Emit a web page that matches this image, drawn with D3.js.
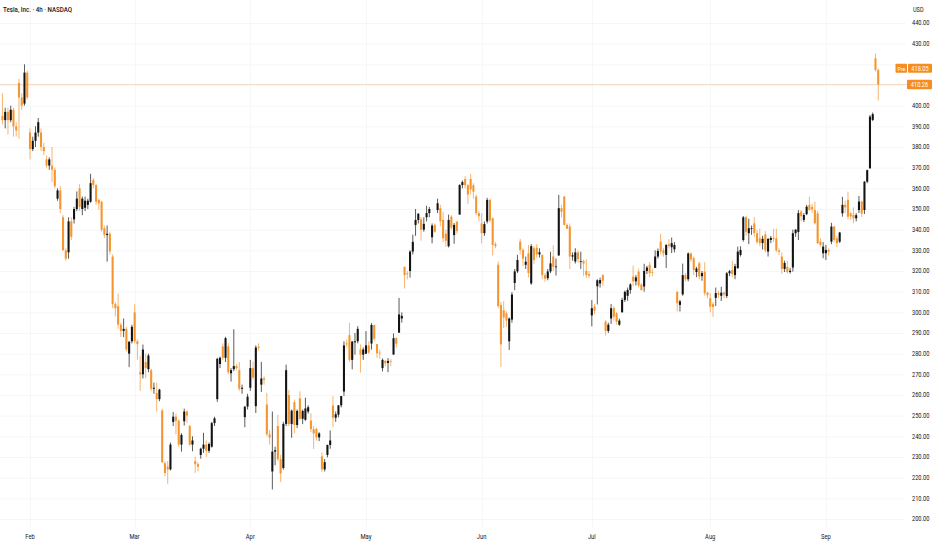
<!DOCTYPE html>
<html><head><meta charset="utf-8">
<script src="https://cdn.jsdelivr.net/npm/d3@7"></script>
<style>html,body{margin:0;padding:0;background:#fff;}svg{display:block;font-family:Roboto,"Noto Sans","DejaVu Sans",sans-serif;}</style>
</head><body><svg id="c" width="932" height="550"></svg>
<script>
// ---- categories: trading days per month (two 4h bars per day, Jul 3 half session) ----
const monthNames = ["Jan","Feb","Mar","Apr","May","Jun","Jul","Aug","Sep"];
const daysJan = [27,28,29,30,31];
const daysFeb = [3,4,5,6,7,10,11,12,13,14,18,19,20,21,24,25,26,27,28];
const daysMar = [3,4,5,6,7,10,11,12,13,14,17,18,19,20,21,24,25,26,27,28,31];
const daysApr = [1,2,3,4,7,8,9,10,11,14,15,16,17,21,22,23,24,25,28,29,30];
const daysMay = [1,2,5,6,7,8,9,12,13,14,15,16,19,20,21,22,23,27,28,29,30];
const daysJun = [2,3,4,5,6,9,10,11,12,13,16,17,18,20,23,24,25,26,27,30];
const daysJul = [1,2,3,7,8,9,10,11,14,15,16,17,18,21,22,23,24,25,28,29,30,31];
const daysAug = [1,4,5,6,7,8,11,12,13,14,15,18,19,20,21,22,25,26,27,28,29];
const daysSep = [2,3,4,5,8,9,10,11,12,15];
const halfSessions = ["Jul-3"];
const sessions = ["09:30","13:30"];

// ---- series values: [open, high, low, close] per 4h bar ----
const ohlcJan = [[395,406,391,393],[393,399,389,397],[397,399,386,393],[393,400,392,398],[398,399,385,390],[390,392,385,388],[411,413,384,404],[404,406,398,400],[401,420,400,416],[416,417,403,404]];
const ohlcFeb = [[387,389,374,379],[379,385,378,383],[383,390,380,387],[387,394,385,392],[387,389,378,380],[380,382,376,378],[374,376,370,371],[371,375,369,374],[371,380,363,369],[369,370,360,361],
[355,360,354,359],[359,361,348,350],[346,347,330,330],[330,331,325,326],[329,346,326,344],[344,346,335,336.5],[345,351,343,350],[350,358.5,349,355],[360,362,349,351],[350,356,347,355],
[350.6,356,349,354],[352,355,350,354],[353.5,367,353,362.5],[364,365,360,361.6],[361.6,362,352,353.5],[354.4,355,349.6,352.8],[353.5,354,339,340],[340.7,342,336,337.5],[337.4,342,324.5,338],[338,339,328,329.5],
[327,328,302,304],[304,305,298,302],[303,309,292,294],[294,295,288,291],[291,297,288,292],[292,293,281,282],[280,286,273.5,285.8],[286,294,285,293]];
const ohlcMar = [[300,303.9,285,286],[286,287,277,284.6],[271,279,262,270],[270,284.4,268,282],[276,280,268.2,273],[272.5,280,271,279.1],[272,272.7,262,263],[263,266,260.6,263.5],[261,266,252,258],[258,263,257,262.6],
[252.5,253.4,227,227.5],[227,228,220.7,222.2],[225.3,228,217,224],[224,237,223.5,236],[247,251.8,245,249.5],[249.5,251,241,247.5],[247.5,248.3,235,236],[236,241.5,232.6,240.7],[247.3,253.4,245.2,252],[252,252.5,246.5,250],
[245,245.5,235.5,236],[236,240,232.8,238],[228,230.1,222.3,226.5],[226.5,227.5,223,225.3],[231,234.5,229.2,234],[234,241.7,232,236],[236,238,230,233],[233,237,232,236.3],[235,247,234.5,246.4],[246.4,249.5,245,248.7],
[258,278,256.7,277.5],[275,278.6,273,278],[283.5,285,277,278],[278,288.2,276,287.5],[283.5,285,270,271],[270.5,273,266.5,272],[272.5,291.8,271.5,274],[274,275,272,273],[272,276,262,263],[263,265,260.6,263.5],
[249.3,254.5,244.4,254.4],[254.4,260.6,253,259.2]];
const ohlcApr = [[263.5,277,262,273],[273,276,267.5,268.5],[254.6,284,251.3,283],[283.4,285,281.5,282.8],[265,276,261.5,268],[268,269,265,267.3],[255.4,261,240,241],[241,243,236,239.4],[223,252,214.3,232.6],[232.6,235,226,233.3],
[245,250.4,228,229],[229,231,217.8,222],[224.7,247,223.9,246],[246,274.7,245,272],[260,262.5,245,246],[246,253,239.3,252.4],[256.5,257.7,241.4,245.5],[245.5,253,244,252.3],[258.4,261.8,248,248.5],[248.5,253,245.9,252.3],
[248,258.7,247.5,253.5],[252,255,251,254.1],[247.6,251.2,242,243.5],[243.5,245,233.9,241.4],[243.5,244.3,238,239.5],[239.5,242,237.7,241.4],[230.3,232.2,222.8,224],[224,229,223,227.5],[231,236,229.8,235.8],[235.8,242.8,234,238],
[254.9,259.4,244.4,249],[249,252,247,250.7],[250.5,255,249.2,255],[255,259.5,254,259.5],[261.7,286,259.6,284],[285,286.9,283,284.5],[289,294.9,276,277],[277,286,272.4,285.9],[285.5,290,279.5,286],[286,293.3,285,292],
[282,284.5,270.8,279.5],[279.5,283,277,282]];
const ohlcMay = [[280,290.9,279.8,284],[284,286,280,280.5],[284.9,294.8,282,293.9],[293.9,294,286,287.2],[284.6,284.6,278,280.2],[280.5,282,277.5,280.3],[273,277.7,271.4,277],[276.5,277,274,275.3],[275.5,277.9,271,276.5],[276.5,277.5,274,276.2],
[279.6,289.8,279.4,287.5],[287.5,288,283,284.8],[290.2,307,290,299],[297,300,295,298.3],[322,322.2,311.5,318],[318.9,320,316,318.4],[320,330,316.8,329.4],[329.4,337.6,328,334.1],[342.3,350,337,344.7],[344.7,348,343,347.7],
[345,346.1,334.7,340],[340,346,339,342.8],[346,351.6,344,348],[348,351,346,350],[336.3,343,333.4,342],[342.3,343,338.5,339],[349.5,355,348,352.8],[350.4,352,341.6,344],[344.7,348.7,334,335.8],[338,340,331.7,334.6],
[332,347.3,331.4,344.7],[346.3,347,340,341],[337.4,343.2,333.2,342.3],[343.9,344,338,339.3],[347.3,362,347.3,361.6],[361.6,363.8,360,363],[364.5,365.9,360,361.5],[361.5,362,352.4,357],[364.5,367,357,359.5],[361.5,362.5,355,358.4],
[356,357,347,348],[348,349,344,346.5]];
const ohlcJun = [[343,348,333.4,338.3],[338.3,344,337,342.7],[344,355.4,343,354.4],[354.4,355,343.5,344.5],[345.5,346,327.5,332.6],[333,334,331,332],[323,324.6,302,303],[303.6,305,273.5,284.5],[301,305.5,292.4,297.5],[299.5,300.5,293,296],
[286,297.5,281.8,297],[296.5,309.8,295,308.6],[314.2,321,310.7,319.8],[319.8,327.8,319,325.3],[334.2,335.5,328,330.2],[330.2,331,322.5,326],[323,327,321,324.5],[328.6,332.6,316.9,319],[314,333,313.3,332],[331,332,323.5,325.3],
[331.3,333,326.4,328],[328,331,326.5,329.1],[327.8,328,316,318],[318,319,314.7,316.3],[316.5,321,315.5,319.8],[319.8,329.3,319,323.7],[327,332.4,320,322],[322,326,317.8,322.2],[327.5,356.8,327.5,350.4],[350.4,352,346,348.7],
[356,356.3,342,342.3],[342.3,343,340.4,340.5],[341.5,343,321,327],[327,329,325,327.6],[324.6,331,323.6,329],[329,330,324,325.8],[324.5,329.3,321,324.8],[324.8,325.5,317.5,323.6],[320,325.6,316.6,318],[318.5,320,316.6,317.7]];
const ohlcJul = [[298.5,305.9,293.2,302],[302.8,304,299,300.7],[312.6,316,303.8,315.5],[314,316.8,312,315.6],[318,318.5,312.8,315.3],[295.5,296.2,288.8,291],[291,295,290,294],[297,304,294.4,302],[302,303,296,297.8],[299.5,300.2,294,295.5],
[294,297,293.5,296],[300,307,300,306],[306,310.5,305,309.9],[308,312,305.6,310.8],[310.8,314.1,309,313.5],[317.3,322.6,312.7,315],[315,318,313,316.9],[319.7,321.2,312,313],[313.5,314,310.5,310.8],[312.5,323.5,310,320],
[320,322.5,318.5,321.7],[323,324.3,317,319],[319.5,321,317.5,319.4],[321.5,330,321.4,327],[327,330.9,326,329.7],[334.2,338,328,329.5],[330,331,326.9,328.5],[327.8,333,321.5,332.6],[333,335.4,331,332.1],[331.5,336.2,328.7,333.5],
[330.5,334,329,332.6],[310,310.2,300.4,304.4],[303.6,306,300.4,305.3],[308.7,323.6,308,318],[318,319,315,316],[316,329,315,328.5],[328.5,329,324.5,325.6],[326.2,327,318,320.5],[319.5,322,317,321.2],[323.7,324.5,316,317.3],
[317.5,320,315.3,319],[319.7,324.3,308,309.3],[309.5,310,306.8,308.3]];
const ohlcAug = [[306.8,309.3,300,302.7],[304,305,297.8,302.6],[307,312,303,309.3],[309.3,310.5,307,308.5],[308,312.4,305.5,309.5],[309.5,310,307,308.7],[307.9,319.5,306.9,318.9],[318.9,320.5,317.5,319.9],[320.5,324.9,317,318.5],[318,323.5,316,322.3],
[321.4,331.8,321,329.4],[327.8,332,327,330.2],[335,346.6,334.2,346],[346,346.6,337,339],[338.3,345.3,333,340.7],[340.7,342,337.5,340.8],[343,346,336.5,338.3],[338.3,340,333,334],[335.8,340.5,332,333.5],[333.5,337,330.4,335.6],
[337.7,339.3,329,330],[329.4,336,327,335.5],[335,337,333.5,336],[336,340.5,334,335.5],[335.8,340.5,329,330],[330,331,327.8,329.3],[327,329,318.6,321],[321,325,319.5,323.9],[322,324.9,318.7,319.5],[319.5,321.5,318.7,320.1],
[321.7,340,319.7,338.3],[338.3,340.3,336.5,340],[338.9,349.5,335,348],[348.7,349.5,344,346.5],[344.7,348,343.7,347.1],[347.5,352,347,351.1],[352,356,349.2,349.5],[351,352.5,348,349.8],[349.5,353.6,342.5,343.1],[347.9,349,333,333.4],
[334.2,336,331.7,332.6],[328.6,334,326.2,331.8]];
const ohlcSep = [[328.6,332.6,325.3,330.2],[330.2,331,327.5,329.4],[334.2,343.3,333,341.5],[341.5,342,334,335],[335.8,337,331.5,333.4],[334.2,338.9,333.5,338.6],[347.9,355.9,346.3,352],[352,354,348,350.8],[354.4,358.4,345,346.3],[347.9,348.5,344.8,346.4],
[347.1,350.8,343.1,345.5],[345.5,348,344,347],[349.5,356.3,348,353.6],[353.6,354,346.1,347.8],[349.5,363.5,347.6,363.2],[363.2,369,362.5,368.8],[369.7,395.5,369.5,394.7],[393.1,396.7,392.5,395.9],[422.9,425.3,416.5,417.3],[417.3,418,402.5,410.26]];

// ---- tick labels ----
const priceTicks = [200,210,220,230,240,250,260,270,280,290,300,310,320,330,340,350,360,370,380,390,400,410,420,430,440];
const timeTicks = ["Feb","Mar","Apr","May","Jun","Jul","Aug","Sep"];
const titleText = "Tesla, Inc. · 4h · NASDAQ";
const currency = "USD";
const lastPrice = 410.26;
const prePrice = 418.05;

// ---- build bar table ----
const daysBy = {Jan:daysJan,Feb:daysFeb,Mar:daysMar,Apr:daysApr,May:daysMay,Jun:daysJun,Jul:daysJul,Aug:daysAug,Sep:daysSep};
const ohlcBy = {Jan:ohlcJan,Feb:ohlcFeb,Mar:ohlcMar,Apr:ohlcApr,May:ohlcMay,Jun:ohlcJun,Jul:ohlcJul,Aug:ohlcAug,Sep:ohlcSep};
const bars = [];
monthNames.forEach(m => {
  const labels = [];
  daysBy[m].forEach(d => {
    const ss = halfSessions.includes(m + "-" + d) ? sessions.slice(0,1) : sessions;
    ss.forEach(s => labels.push({id: m + "-" + d + " " + s, month: m}));
  });
  const vals = ohlcBy[m];
  labels.forEach((b, k) => {
    const v = vals[k] || vals[vals.length-1];
    bars.push({id: b.id, month: b.month, o: v[0], h: v[1], l: v[2], c: v[3]});
  });
});

// ---- layout ----
const step = 2.754;
const r0 = 30 - 10.5 * step;
const plotRight = 905;
const x = d3.scaleBand().domain(bars.map(b => b.id)).range([r0, r0 + bars.length * step]).paddingInner(0.25).paddingOuter(0.125);
const y = d3.scaleLinear().domain([200, 440]).range([519, 23]);
const cx = id => x(id) + x.bandwidth() / 2;

const UP = "#131313", DOWN = "#f5952f", LABEL = "#f68d22", TEXT = "#131722";
const SX = 0.86;
const svg = d3.select("#c");

function txt(parent, tx, ty, s, anchor, size, fill, weight) {
  return parent.append("text")
    .attr("transform", `translate(${tx},${ty}) scale(${SX},1)`)
    .attr("text-anchor", anchor || "start")
    .attr("font-size", size)
    .attr("fill", fill || TEXT)
    .attr("font-weight", weight || 400)
    .text(s);
}

// grid
const grid = svg.append("g");
grid.selectAll("line.h").data(priceTicks).join("line")
  .attr("x1", 0).attr("x2", plotRight).attr("y1", d => y(d) + 0.5).attr("y2", d => y(d) + 0.5)
  .attr("stroke", "#f5f6f8").attr("stroke-width", 1);
const monthFirst = timeTicks.map(m => bars.find(b => b.month === m));
grid.selectAll("line.v").data(monthFirst).join("line")
  .attr("x1", d => Math.round(cx(d.id)) + 0.5).attr("x2", d => Math.round(cx(d.id)) + 0.5)
  .attr("y1", 0).attr("y2", 528)
  .attr("stroke", "#f6f7f9").attr("stroke-width", 1);

// last price line
svg.append("line").attr("x1", 0).attr("x2", plotRight + 2)
  .attr("y1", y(lastPrice)).attr("y2", y(lastPrice))
  .attr("stroke", "#f1dcc6").attr("stroke-width", 1);

// candles
const cg = svg.append("g");
cg.selectAll("line.wick").data(bars).join("line")
  .attr("x1", d => cx(d.id)).attr("x2", d => cx(d.id))
  .attr("y1", d => y(d.h)).attr("y2", d => y(d.l))
  .attr("stroke", d => d.c >= d.o ? UP : DOWN).attr("stroke-width", 0.7);
cg.selectAll("rect.body").data(bars).join("rect")
  .attr("x", d => x(d.id)).attr("width", x.bandwidth())
  .attr("y", d => y(Math.max(d.o, d.c)))
  .attr("height", d => Math.max(0.8, Math.abs(y(d.o) - y(d.c))))
  .attr("fill", d => d.c >= d.o ? UP : DOWN);

// title
txt(svg, 3, 12, titleText, "start", 7.2, TEXT, 500);
txt(svg, 913, 12, currency, "start", 6.5, TEXT);

// price axis labels (those hidden under the price tags are not drawn)
const yp = y(prePrice), yl = y(lastPrice);
const ax = svg.append("g");
priceTicks
  .filter(p => Math.abs(y(p) - yp) > 7 && Math.abs(y(p) - yl) > 7)
  .forEach(p => txt(ax, 912, y(p) + 2.3, d3.format(".2f")(p), "start", 6.6, TEXT));

// time axis labels
const tx = svg.append("g");
monthFirst.forEach((b, k) => txt(tx, cx(b.id), 539, timeTicks[k], "middle", 6.8, TEXT));

// pre-market label
svg.append("rect").attr("x", 895.5).attr("y", yp - 4.5).attr("width", 11.5).attr("height", 9).attr("rx", 1).attr("fill", LABEL);
svg.append("rect").attr("x", 908).attr("y", yp - 4.5).attr("width", 24).attr("height", 9).attr("rx", 1).attr("fill", LABEL);
txt(svg, 901.3, yp + 2.2, "Pre", "middle", 6, "#fff");
txt(svg, 920, yp + 2.2, d3.format(".2f")(prePrice), "middle", 6.6, "#fff");

// last price label
svg.append("rect").attr("x", 907).attr("y", yl - 4.7).attr("width", 25).attr("height", 9.4).attr("rx", 1).attr("fill", LABEL);
txt(svg, 919.5, yl + 2.3, d3.format(".2f")(lastPrice), "middle", 6.6, "#fff");
</script></body></html>
